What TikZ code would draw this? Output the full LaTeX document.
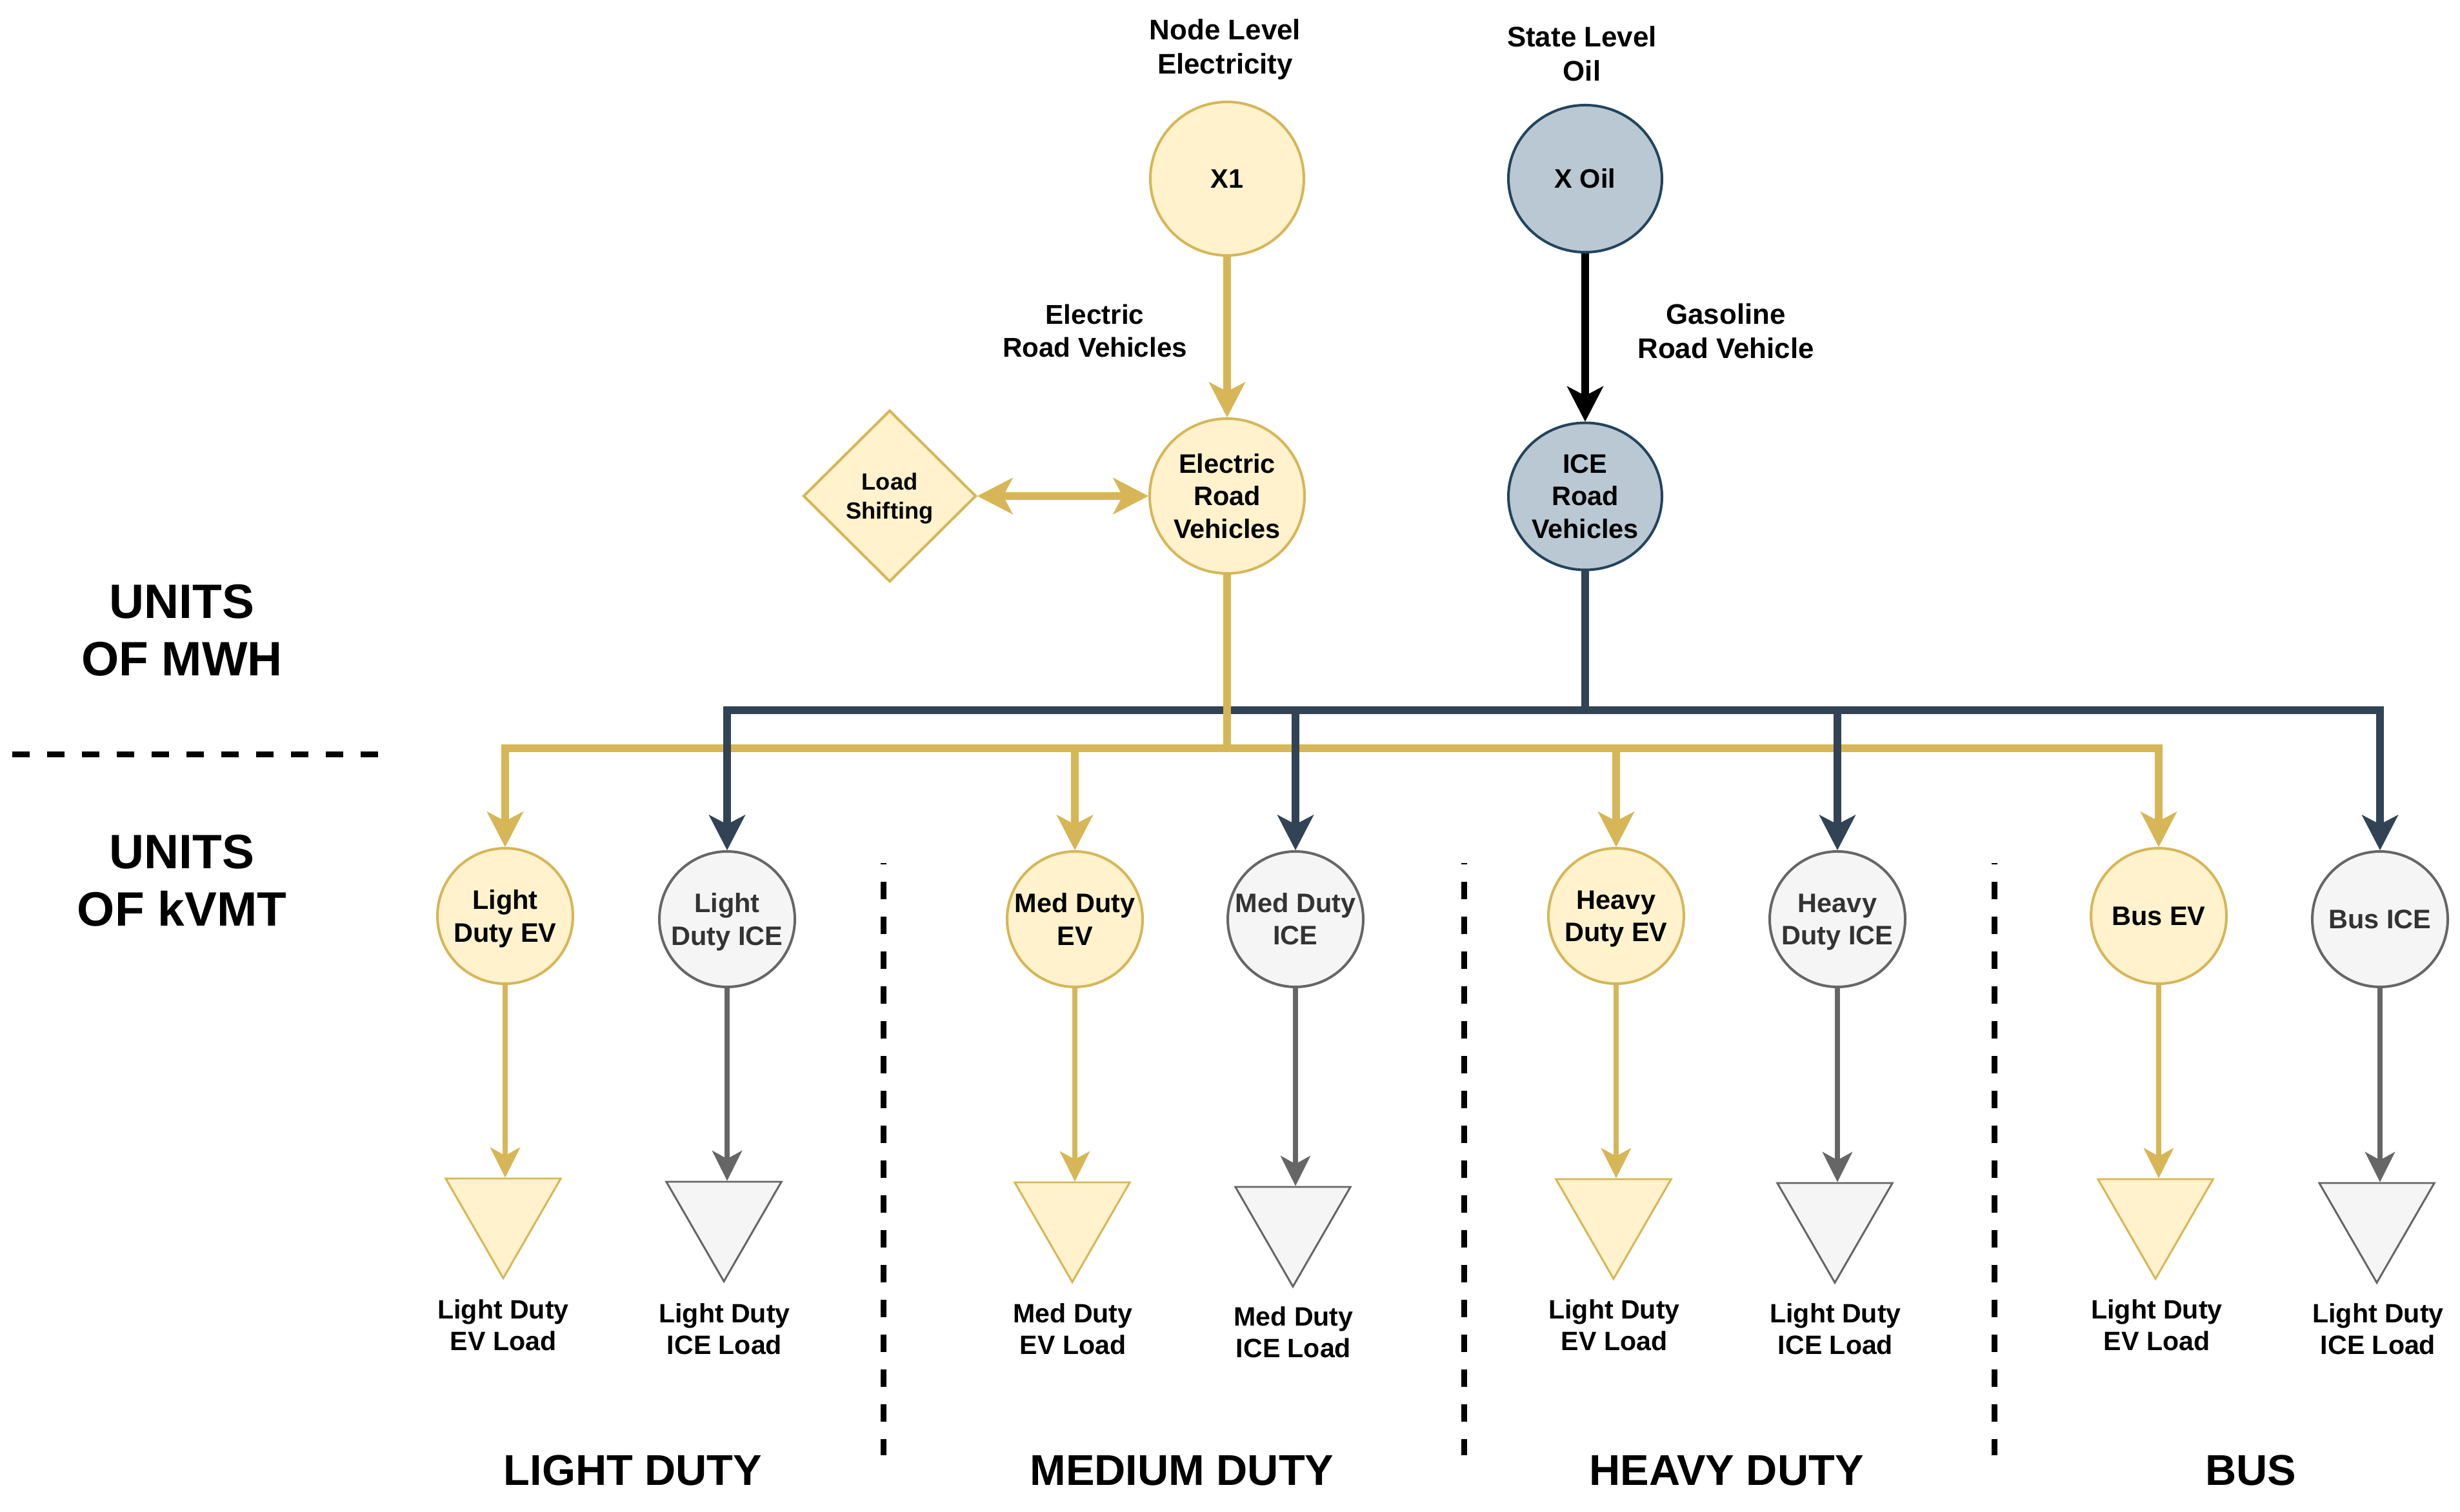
\documentclass[tikz,border=0pt]{standalone}
\usepackage{fontspec}
\setmainfont{Liberation Sans}
\usetikzlibrary{arrows.meta,shapes.geometric}
\definecolor{goldf}{HTML}{FFF2CC}
\definecolor{goldd}{HTML}{D6B656}
\definecolor{navyf}{HTML}{BAC8D3}
\definecolor{navyd}{HTML}{23445D}
\definecolor{navyl}{HTML}{314354}
\definecolor{greyf}{HTML}{F5F5F5}
\definecolor{greyd}{HTML}{666666}
\definecolor{greyt}{HTML}{333333}
\begin{document}
\begin{tikzpicture}[
  bigtip/.tip={Stealth[length=5.5mm,width=5.7mm,inset=1.5mm,line width=0.1pt]},
  smalltip/.tip={Stealth[length=4.7mm,width=4.7mm,inset=1.3mm,line width=0.1pt]},
  ftxt/.style={font=\fontsize{11.8pt}{14.3pt}\selectfont\bfseries, align=center},
  flab/.style={font=\fontsize{12.5pt}{15.1pt}\selectfont\bfseries, align=center},
  floadl/.style={font=\fontsize{11.7pt}{13.9pt}\selectfont\bfseries, align=center},
  fsec/.style={font=\fontsize{19pt}{22.8pt}\selectfont\bfseries, align=center},
  funit/.style={font=\fontsize{21.3pt}{25.3pt}\selectfont\bfseries, align=center},
  goldnode/.style={circle, draw=goldd, fill=goldf, line width=1.14pt, inner sep=0pt, ftxt},
  greynode/.style={circle, draw=greyd, fill=greyf, line width=1.14pt, inner sep=0pt, ftxt, text=greyt},
  navynode/.style={ellipse, draw=navyd, fill=navyf, line width=1.14pt, inner sep=0pt, ftxt, minimum width=2.38cm, minimum height=2.28cm},
  topgold/.style={goldnode, minimum size=2.40cm},
  lowgold/.style={goldnode, minimum size=2.10cm},
  lowgrey/.style={greynode, minimum size=2.10cm},
  tri/.style={regular polygon, regular polygon sides=3, shape border rotate=180, minimum size=2.06cm, inner sep=0pt, line width=0.85pt},
  goldtri/.style={tri, draw=goldd, fill=goldf},
  greytri/.style={tri, draw=greyd, fill=greyf},
  goldarr/.style={draw=goldd, line width=3.41pt, -bigtip},
  navyarr/.style={draw=navyl, line width=3.41pt, -bigtip},
  blackarr/.style={draw=black, line width=3.41pt, -bigtip},
  goldsm/.style={draw=goldd, line width=2.28pt, -smalltip},
  greysm/.style={draw=greyd, line width=2.28pt, -smalltip},
  sepline/.style={line width=2.56pt, dash pattern=on 0.27cm off 0.27cm}
]
\useasboundingbox (0,0) rectangle (38.13,23.43);

% top labels
\node[flab] (lnode) at (18.99,22.71) {Node Level\\\smash{Electricity}};
\node[flab] (lstate) at (24.52,22.595) {State Level\\Oil};
\node[font=\fontsize{12pt}{14.6pt}\selectfont\bfseries, align=center] (lerv) at (16.97,18.30) {Electric\\Road Vehicles};
\node[flab] (lgas) at (26.75,18.30) {Gasoline\\Road Vehicle};

% top nodes
\node[topgold, minimum size=2.38cm] (x1) at (19.02,20.66) {X1};
\node[navynode] (xoil) at (24.57,20.66) {X Oil};
\node[topgold] (erv) at (19.02,15.74) {Electric\\Road\\Vehicles};
\node[navynode] (icerv) at (24.57,15.735) {ICE\\Road\\Vehicles};
\node[diamond, draw=goldd, fill=goldf, line width=1.14pt, inner sep=0pt,
      minimum width=2.68cm, minimum height=2.66cm,
      font=\fontsize{10.3pt}{12.8pt}\selectfont\bfseries, align=center] (ls) at (13.79,15.74) {Load\\\smash{Shifting}};

% unit labels
\node[funit] (umwh) at (2.82,13.655) {UNITS\\OF MWH};
\node[funit] (ukvmt) at (2.82,9.78) {UNITS\\OF kVMT};

% bus coordinates
\coordinate (busn) at (0,12.42);
\coordinate (busg) at (0,11.83);

% lower nodes
\node[lowgold] (ldev) at (7.83,9.23) {Light\\\smash{Duty EV}};
\node[lowgrey] (ldice) at (11.27,9.18) {Light\\\smash{Duty ICE}};
\node[lowgold] (mdev) at (16.66,9.18) {Med Duty\\EV};
\node[lowgrey] (mdice) at (20.08,9.18) {Med Duty\\ICE};
\node[lowgold] (hdev) at (25.05,9.23) {Heavy\\\smash{Duty EV}};
\node[lowgrey] (hdice) at (28.48,9.18) {Heavy\\\smash{Duty ICE}};
\node[lowgold] (busev) at (33.46,9.23) {Bus EV};
\node[lowgrey] (busice) at (36.89,9.18) {Bus ICE};

% triangles
\node[goldtri] (ldevt) at (7.80,4.645) {};
\node[greytri] (ldicet) at (11.22,4.595) {};
\node[goldtri] (mdevt) at (16.62,4.585) {};
\node[greytri] (mdicet) at (20.04,4.515) {};
\node[goldtri] (hdevt) at (25.01,4.635) {};
\node[greytri] (hdicet) at (28.44,4.575) {};
\node[goldtri] (busevt) at (33.41,4.635) {};
\node[greytri] (busicet) at (36.84,4.575) {};

% load labels
\node[floadl] (ldevl) at (7.80,2.885) {Light Duty\\EV Load};
\node[floadl] (ldicel) at (11.23,2.825) {Light Duty\\ICE Load};
\node[floadl] (mdevl) at (16.63,2.825) {Med Duty\\EV Load};
\node[floadl] (mdicel) at (20.05,2.775) {Med Duty\\ICE Load};
\node[floadl] (hdevl) at (25.02,2.885) {Light Duty\\EV Load};
\node[floadl] (hdicel) at (28.45,2.825) {Light Duty\\ICE Load};
\node[floadl] (busevl) at (33.43,2.885) {Light Duty\\EV Load};
\node[floadl] (busicel) at (36.86,2.825) {Light Duty\\ICE Load};

% section labels
\node[fsec] (sld) at (9.81,0.635) {LIGHT DUTY};
\node[fsec] (smd) at (18.32,0.635) {MEDIUM DUTY};
\node[fsec] (shd) at (26.76,0.63) {HEAVY DUTY};
\node[fsec] (sbus) at (34.89,0.63) {BUS};

% separators
\draw[sepline] (0.19,11.73) -- (5.87,11.73);
\draw[sepline, dash phase=0.25cm] (13.69,10.05) -- (13.69,0.87);
\draw[sepline, dash phase=0.25cm] (22.69,10.05) -- (22.69,0.87);
\draw[sepline, dash phase=0.25cm] (30.91,10.05) -- (30.91,0.87);

% top connectors
\draw[goldarr] (x1) -- (erv);
\draw[blackarr] (xoil) -- (icerv);
\draw[goldarr, bigtip-bigtip] (ls) -- (erv);

% gold distribution
\draw[goldarr] (erv.south) -- (erv.south |- busg) -| (ldev.north);
\draw[goldarr] (erv.south) -- (erv.south |- busg) -| (mdev.north);
\draw[goldarr] (erv.south) -- (erv.south |- busg) -| (hdev.north);
\draw[goldarr] (erv.south) -- (erv.south |- busg) -| (busev.north);

% navy distribution
\draw[navyarr] (icerv.south) -- (icerv.south |- busn) -| (ldice.north);
\draw[navyarr] (icerv.south) -- (icerv.south |- busn) -| (mdice.north);
\draw[navyarr] (icerv.south) -- (icerv.south |- busn) -| (hdice.north);
\draw[navyarr] (icerv.south) -- (icerv.south |- busn) -| (busice.north);

% gold trunk on top of the navy bus
\draw[draw=goldd, line width=3.41pt] (erv.south) -- (erv.south |- busg);

% lower connectors
\draw[goldsm] (ldev.south) -- (ldev.south |- ldevt.north);
\draw[greysm] (ldice.south) -- (ldice.south |- ldicet.north);
\draw[goldsm] (mdev.south) -- (mdev.south |- mdevt.north);
\draw[greysm] (mdice.south) -- (mdice.south |- mdicet.north);
\draw[goldsm] (hdev.south) -- (hdev.south |- hdevt.north);
\draw[greysm] (hdice.south) -- (hdice.south |- hdicet.north);
\draw[goldsm] (busev.south) -- (busev.south |- busevt.north);
\draw[greysm] (busice.south) -- (busice.south |- busicet.north);
\end{tikzpicture}
\end{document}
